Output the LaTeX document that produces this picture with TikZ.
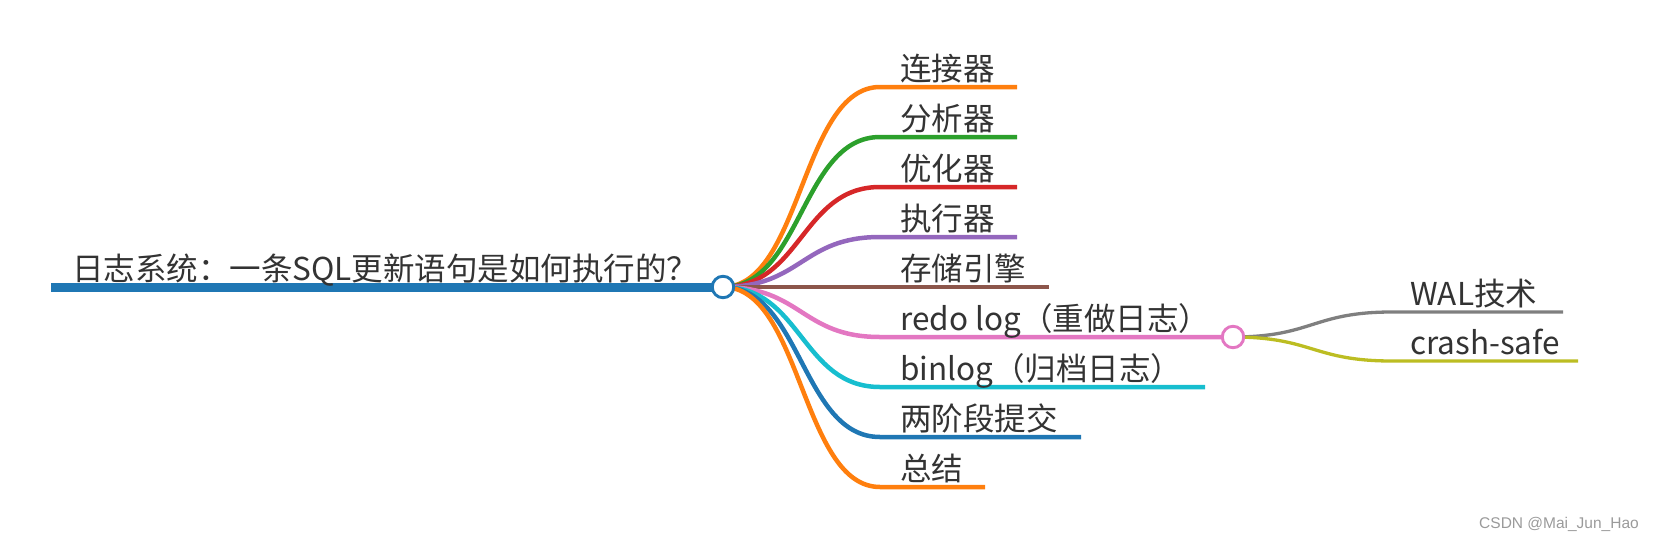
\documentclass[tikz,border=0pt]{standalone}
\usepackage{fontspec}
\setmainfont{Noto Sans CJK SC}
\newfontfamily\wmfont{Liberation Sans}
\definecolor{cblue}{HTML}{1F77B4}
\definecolor{corange}{HTML}{FF7F0E}
\definecolor{cgreen}{HTML}{2CA02C}
\definecolor{cred}{HTML}{D62728}
\definecolor{cpurple}{HTML}{9467BD}
\definecolor{cbrown}{HTML}{8C564B}
\definecolor{cpink}{HTML}{E377C2}
\definecolor{cgray}{HTML}{7F7F7F}
\definecolor{colive}{HTML}{BCBD22}
\definecolor{ccyan}{HTML}{17BECF}
\definecolor{ctext}{HTML}{333333}
\definecolor{cwm}{HTML}{9A9A9A}
\tikzset{
  lbl/.style={anchor=base west, inner sep=0pt, text=ctext, font=\fontsize{31.5}{31.5}\selectfont},
  kid/.style={line width=4.5pt},
  sub/.style={line width=3.3pt},
  knob/.style={circle, draw, fill=white, line width=2.9pt, minimum size=21.5pt, inner sep=0pt},
}
\begin{document}
\begin{tikzpicture}[x=1pt,y=-1pt]
\useasboundingbox (0,0) rectangle (1656,541);
% coordinates
\coordinate (rs) at (51,287);
\coordinate (rc) at (723,287);
\coordinate (a1) at (880,87)  ; \coordinate (b1) at (1017,87);
\coordinate (a2) at (880,137) ; \coordinate (b2) at (1017,137);
\coordinate (a3) at (880,187) ; \coordinate (b3) at (1017,187);
\coordinate (a4) at (880,237) ; \coordinate (b4) at (1017,237);
\coordinate (a5) at (880,287) ; \coordinate (b5) at (1049,287);
\coordinate (a6) at (880,337) ; \coordinate (b6) at (1233,337);
\coordinate (a7) at (880,387) ; \coordinate (b7) at (1205,387);
\coordinate (a8) at (880,437) ; \coordinate (b8) at (1081,437);
\coordinate (a9) at (880,487) ; \coordinate (b9) at (985,487);
\coordinate (s1) at (1392,312); \coordinate (e1) at (1563,312);
\coordinate (s2) at (1392,361); \coordinate (e2) at (1578,361);
% root line
\draw[cblue, line width=9pt] (rs) -- (rc);
% curves
\draw[kid, corange] (rc) .. controls (801.5,287) and (801.5,87) .. (a1) -- (b1);
\draw[kid, cgreen]  (rc) .. controls (801.5,287) and (801.5,137) .. (a2) -- (b2);
\draw[kid, cred]    (rc) .. controls (801.5,287) and (801.5,187) .. (a3) -- (b3);
\draw[kid, cpurple] (rc) .. controls (801.5,287) and (801.5,237) .. (a4) -- (b4);
\draw[kid, cbrown]  (rc) .. controls (801.5,287) and (801.5,287) .. (a5) -- (b5);
\draw[kid, cpink]   (rc) .. controls (801.5,287) and (801.5,337) .. (a6) -- (b6);
\draw[kid, ccyan]   (rc) .. controls (801.5,287) and (801.5,387) .. (a7) -- (b7);
\draw[kid, cblue]   (rc) .. controls (801.5,287) and (801.5,437) .. (a8) -- (b8);
\draw[kid, corange] (rc) .. controls (801.5,287) and (801.5,487) .. (a9) -- (b9);
\draw[sub, cgray]  (b6) .. controls (1312.5,337) and (1312.5,312) .. (s1) -- (e1);
\draw[sub, colive] (b6) .. controls (1312.5,337) and (1312.5,361) .. (s2) -- (e2);
% knobs
\node[knob, draw=cblue] (rk) at (rc) {};
\node[knob, draw=cpink] (pk) at (b6) {};
% labels
\node[lbl] (root) at (72,280) {日志系统：一条SQL更新语句是如何执行的？};
\node[lbl] (t1) at (900,80)  {连接器};
\node[lbl] (t2) at (900,130) {分析器};
\node[lbl] (t3) at (900,180) {优化器};
\node[lbl] (t4) at (900,230) {执行器};
\node[lbl] (t5) at (900,280) {存储引擎};
\node[lbl] (t6) at (900,330) {redo log（重做日志）};
\node[lbl] (t7) at (900,380) {binlog（归档日志）};
\node[lbl] (t8) at (900,430) {两阶段提交};
\node[lbl] (t9) at (900,480) {总结};
\node[lbl] (u1) at (1410,305) {WAL技术};
\node[lbl] (u2) at (1410,354) {crash-safe};
\node[anchor=base west, inner sep=0pt, text=cwm, font=\wmfont\fontsize{15.5}{15.5}\selectfont] (wm) at (1479,528) {CSDN @Mai\_Jun\_Hao};
\end{tikzpicture}
\end{document}
